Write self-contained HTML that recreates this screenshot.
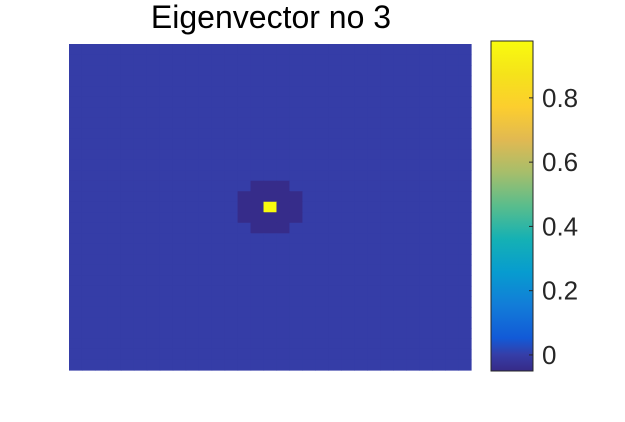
<!DOCTYPE html>
<html><head><meta charset="utf-8"><style>
body{margin:0;background:#fff;width:625px;height:417px;overflow:hidden;font-family:"Liberation Sans",sans-serif}
</style></head><body>
<svg width="625" height="417">
<defs><linearGradient id="parula" x1="0" y1="1" x2="0" y2="0"></linearGradient></defs>
<text x="271" y="28" font-size="32" text-anchor="middle" fill="#000">Eigenvector no 3</text>
<g id="heat"></g>
<g id="cbar"></g>
</svg>
<script>
const gridSize = 31;
const baseValue = 0.0;
const dipCells = [[14,13],[14,14],[14,15],[14,16],[14,17],[15,13],[15,14],[15,16],[15,17],[16,13],[16,14],[16,15],[16,16],[16,17],[13,14],[13,15],[13,16],[17,14],[17,15],[17,16]];
const dipValue = -0.045;
const peakCell = [15,15];
const peakValue = 0.977;
const cMin = -0.05, cMax = 0.977;
const cbTicks = [0,0.2,0.4,0.6,0.8];
const cbTickLabels = ["0","0.2","0.4","0.6","0.8"];
const parulaStops = [[0,54,42,135],[0.05,53,62,168],[0.1,18,90,215],[0.2,18,125,216],[0.3,7,156,207],[0.4,21,177,180],[0.5,89,189,140],[0.6,165,190,107],[0.7,225,185,82],[0.8,252,206,46],[0.9,245,227,26],[1,249,251,14]];
function cmap(v){let t=(v-cMin)/(cMax-cMin);t=Math.max(0,Math.min(1,t));
 for(let i=1;i<parulaStops.length;i++){const a=parulaStops[i-1],b=parulaStops[i];if(t<=b[0]){const f=(t-a[0])/(b[0]-a[0]);
 return `rgb(${Math.round(a[1]+f*(b[1]-a[1]))},${Math.round(a[2]+f*(b[2]-a[2]))},${Math.round(a[3]+f*(b[3]-a[3]))})`;}}return "rgb(249,251,14)";}
const NS="http://www.w3.org/2000/svg";
const px0=69,px1=471,py0=44,py1=370;
const cw=(px1-px0)/gridSize,ch=(py1-py0)/gridSize;
const xPos=c=>px0+c*cw, yPos=r=>py0+r*ch;
const vals=[];for(let r=0;r<gridSize;r++){vals.push(new Array(gridSize).fill(baseValue));}
dipCells.forEach(([r,c])=>vals[r][c]=dipValue);
vals[peakCell[0]][peakCell[1]]=peakValue;
const heat=document.getElementById('heat');
for(let r=0;r<gridSize;r++)for(let c=0;c<gridSize;c++){
 const el=document.createElementNS(NS,'rect');
 el.setAttribute('x',xPos(c));el.setAttribute('y',yPos(r));
 el.setAttribute('width',cw+0.6);el.setAttribute('height',ch+0.6);
 el.setAttribute('fill',cmap(vals[r][c]));
 
 
 heat.appendChild(el);}
const g=document.getElementById('parula');
parulaStops.forEach(s=>{const st=document.createElementNS(NS,'stop');st.setAttribute('offset',s[0]);st.setAttribute('stop-color',`rgb(${s[1]},${s[2]},${s[3]})`);g.appendChild(st);});
const cb=document.getElementById('cbar');
const bx0=491,bx1=533,by0=41,by1=371;
const cbY=v=>by1-(v-cMin)/(cMax-cMin)*(by1-by0);
const rect=document.createElementNS(NS,'rect');
rect.setAttribute('x',bx0);rect.setAttribute('y',by0);rect.setAttribute('width',bx1-bx0);rect.setAttribute('height',by1-by0);
rect.setAttribute('fill','url(#parula)');rect.setAttribute('stroke','#262626');rect.setAttribute('stroke-width','1');


cb.appendChild(rect);
cbTicks.forEach((v,i)=>{const y=cbY(v);
 const t=document.createElementNS(NS,'line');t.setAttribute('x1',bx1-4);t.setAttribute('x2',bx1);t.setAttribute('y1',y);t.setAttribute('y2',y);t.setAttribute('stroke','#262626');
 
 
 cb.appendChild(t);
 const tx=document.createElementNS(NS,'text');tx.setAttribute('x',542);tx.setAttribute('y',y+9);tx.setAttribute('font-size','26');tx.setAttribute('fill','#262626');tx.textContent=cbTickLabels[i];
 
 
 cb.appendChild(tx);});
</script>
</body></html>
